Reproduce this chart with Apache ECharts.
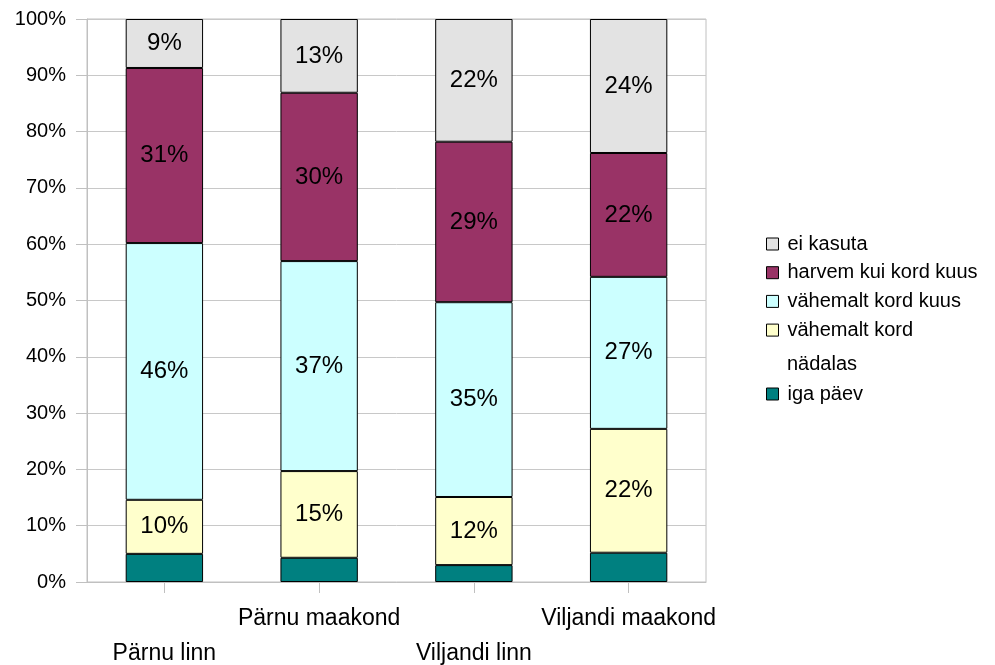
<!DOCTYPE html>
<html>
<head>
<meta charset="utf-8">
<script src="https://cdn.jsdelivr.net/npm/echarts@6/dist/echarts.min.js"></script>
<style>html,body{margin:0;padding:0;background:#fff}#c{width:995px;height:665px}</style>
</head>
<body>
<div id="c"></div>
<script>
const categories = ['Pärnu linn', 'Pärnu maakond', 'Viljandi linn', 'Viljandi maakond'];
const seriesNames = ['iga päev', 'vähemalt kord nädalas', 'vähemalt kord kuus', 'harvem kui kord kuus', 'ei kasuta'];
const igaPaev = [5.0, 4.3, 3.0, 5.2];
const nadalas = [9.6, 15.4, 12.1, 22.0];
const kuus = [45.6, 37.3, 34.6, 27.0];
const harvem = [31.1, 29.9, 28.5, 22.0];
const eiKasuta = [8.7, 13.1, 21.8, 23.8];
const yTicks = [0, 10, 20, 30, 40, 50, 60, 70, 80, 90, 100];
const colors = ['#008080', '#FFFFCC', '#CCFFFF', '#993366', '#E3E3E3'];
const showLabel = [false, true, true, true, true];
const allData = [igaPaev, nadalas, kuus, harvem, eiKasuta];

const font = '"Liberation Sans", Arial, sans-serif';
const chart = echarts.init(document.getElementById('c'));
const series = allData.map((d, i) => ({
  name: seriesNames[i],
  type: 'bar',
  stack: 'total',
  barWidth: '50%',
  data: d,
  itemStyle: { color: colors[i], borderColor: '#000', borderWidth: 1 },
  label: {
    show: showLabel[i],
    position: 'inside',
    color: '#000',
    fontFamily: font,
    fontSize: 24,
    formatter: p => Math.round(p.value) + '%'
  },
  emphasis: { disabled: true }
}));

const legendCommon = {
  orient: 'vertical',
  left: 766,
  padding: 0,
  itemWidth: 12,
  itemHeight: 12,
  icon: 'rect',
  textStyle: { color: '#000', fontSize: 20, fontFamily: font, lineHeight: 20, padding: [0, 0, 0, 4] },
  itemStyle: { borderColor: '#000', borderWidth: 1 }
};

chart.setOption({
  animation: false,
  textStyle: { fontFamily: font },
  grid: { left: 87, right: 289, top: 19, bottom: 83, show: true, borderColor: '#c0c0c0', borderWidth: 1, containLabel: false, outerBoundsMode: 'none' },
  xAxis: {
    type: 'category',
    data: categories,
    axisLine: { lineStyle: { color: '#c0c0c0' } },
    axisTick: { show: true, alignWithLabel: true, length: 11, lineStyle: { color: '#c0c0c0' } },
    axisLabel: {
      interval: 0,
      margin: 19,
      color: '#000',
      fontSize: 23,
      lineHeight: 35,
      fontFamily: font,
      formatter: (v, idx) => (idx % 2 === 0 ? '\n' + v : v)
    }
  },
  yAxis: {
    type: 'value',
    min: yTicks[0],
    max: yTicks[yTicks.length - 1],
    interval: 10,
    axisLine: { show: true, lineStyle: { color: '#c0c0c0' } },
    axisTick: { show: true, length: 11, lineStyle: { color: '#c0c0c0' } },
    splitLine: { show: true, lineStyle: { color: '#c8c8c8' } },
    axisLabel: { color: '#000', fontSize: 20, fontFamily: font, margin: 21, formatter: '{value}%' }
  },
  legend: [
    Object.assign({}, legendCommon, {
      top: 234,
      itemGap: 8.7,
      data: ['ei kasuta', 'harvem kui kord kuus', 'vähemalt kord kuus', 'vähemalt kord nädalas'],
      formatter: n => n === 'vähemalt kord nädalas' ? 'vähemalt kord' : n
    }),
    Object.assign({}, legendCommon, {
      top: 384,
      data: ['iga päev']
    })
  ],
  graphic: [{
    type: 'text',
    left: 787,
    top: 354,
    style: { text: 'nädalas', fill: '#000', font: '20px "Liberation Sans", Arial, sans-serif' }
  }],
  series: series
});
</script>
</body>
</html>
